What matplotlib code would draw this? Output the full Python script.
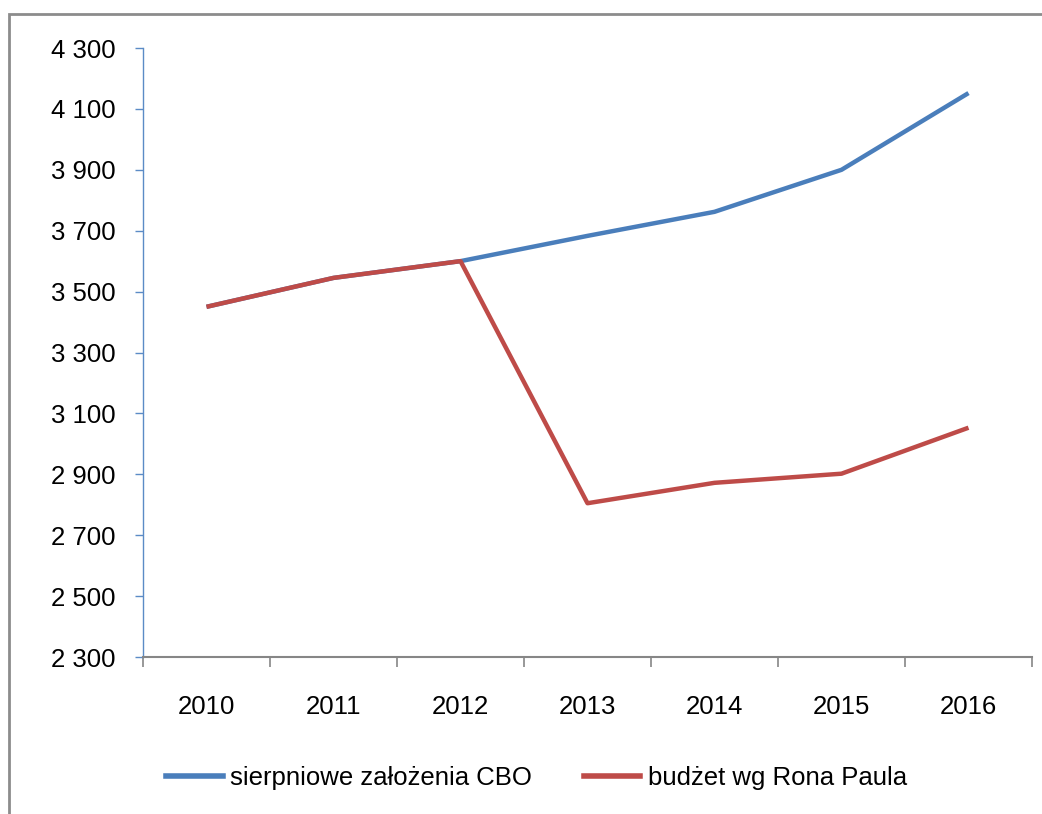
import matplotlib
matplotlib.use("Agg")
import matplotlib.pyplot as plt
from matplotlib.patches import Rectangle
from matplotlib.lines import Line2D

years = ["2010", "2011", "2012", "2013", "2014", "2015", "2016"]
cbo = [3450, 3545, 3600, 3683, 3762, 3900, 4152]
paul = [3450, 3545, 3600, 2805, 2872, 2902, 3053]
labels = ["sierpniowe założenia CBO", "budżet wg Rona Paula"]
yticks = [2300, 2500, 2700, 2900, 3100, 3300, 3500, 3700, 3900, 4100, 4300]

plt.rcParams['font.family'] = ['Liberation Sans', 'DejaVu Sans']
FS = 18.5
blue = "#4A7EBB"
red = "#BE4B48"

fig = plt.figure(figsize=(10.42, 8.14), dpi=100)
W, H = 1042, 814
ax = fig.add_axes([143 / W, 1 - 657 / H, (1032 - 143) / W, (657 - 48) / H])

x = list(range(len(years)))
ax.plot(x, cbo, color=blue, lw=3.2, solid_capstyle='butt', solid_joinstyle='round')
ax.plot(x, paul, color=red, lw=3.2, solid_capstyle='butt', solid_joinstyle='round')

ax.set_xlim(-0.5, len(years) - 0.5)
ax.set_ylim(2300, 4300)
ax.set_yticks(yticks)
ax.set_yticklabels([f"{v:,}".replace(",", " ") for v in yticks], fontsize=FS)
ax.set_xticks([i - 0.5 for i in range(len(years) + 1)])
ax.set_xticklabels([])
ax.set_xticks(x, minor=True)
ax.set_xticklabels(years, minor=True, fontsize=FS)
ax.tick_params(axis='x', which='major', length=7, width=1.2, color="#868686")
ax.tick_params(axis='x', which='minor', length=0, pad=27)
ax.tick_params(axis='y', length=6, width=1, color="#5B8BC6", pad=14)

for s in ("top", "right"):
    ax.spines[s].set_visible(False)
ax.spines['left'].set_color("#5B8BC6")
ax.spines['left'].set_linewidth(1)
ax.spines['bottom'].set_color("#868686")
ax.spines['bottom'].set_linewidth(1.5)

# outer chart border
fig.patches.append(Rectangle((9 / W, -0.1), 1.2, 1 - 14 / H + 0.1, transform=fig.transFigure,
                             fill=False, edgecolor="#8C8C8C", lw=2))

handles = [Line2D([], [], color=blue, lw=4), Line2D([], [], color=red, lw=4)]
fig.legend(handles, labels, loc='center', bbox_to_anchor=(0.515, 1 - 778 / H), ncol=2,
           frameon=False, fontsize=FS, handlelength=2.2, handletextpad=0.3, columnspacing=2.0)

fig.savefig("out.png", dpi=100)
